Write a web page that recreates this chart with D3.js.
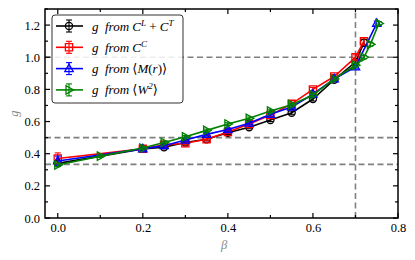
<!DOCTYPE html>
<html>
<head>
<meta charset="utf-8">
<script src="https://cdn.jsdelivr.net/npm/d3@7"></script>
<style>
  body { margin: 0; background: #fff; }
  svg text { font-family: "Liberation Serif", "DejaVu Serif", serif; }
</style>
</head>
<body>
<svg id="drawing" width="415" height="260"></svg>
<script>
// data
const betaBlack = [0, 0.2, 0.25, 0.3, 0.35, 0.4, 0.45, 0.5, 0.55, 0.6, 0.65, 0.7, 0.72]
const gBlack = [0.34, 0.43, 0.44, 0.47, 0.49, 0.53, 0.565, 0.61, 0.655, 0.74, 0.86, 0.97, 1.09]
const errBlack = [0.015, 0.01, 0.01, 0.01, 0.01, 0.01, 0.01, 0.01, 0.01, 0.012, 0.012, 0.015, 0.02]

const betaRed = [0, 0.2, 0.25, 0.3, 0.35, 0.4, 0.45, 0.5, 0.55, 0.6, 0.65, 0.7, 0.72]
const gRed = [0.37, 0.43, 0.455, 0.465, 0.49, 0.535, 0.585, 0.64, 0.71, 0.80, 0.88, 1.0, 1.10]
const errRed = [0.035, 0.01, 0.01, 0.01, 0.01, 0.01, 0.01, 0.01, 0.01, 0.012, 0.012, 0.015, 0.02]

const betaBlue = [0, 0.2, 0.25, 0.3, 0.35, 0.4, 0.45, 0.5, 0.55, 0.6, 0.65, 0.7, 0.75]
const gBlue = [0.355, 0.43, 0.45, 0.485, 0.52, 0.55, 0.59, 0.645, 0.69, 0.77, 0.865, 0.94, 1.21]
const errBlue = [0.03, 0.01, 0.01, 0.01, 0.01, 0.01, 0.01, 0.01, 0.01, 0.01, 0.01, 0.012, 0.015]

const betaGreen = [0, 0.1, 0.2, 0.25, 0.3, 0.35, 0.4, 0.45, 0.5, 0.55, 0.6, 0.65, 0.7, 0.72, 0.735, 0.755]
const gGreen = [0.33, 0.385, 0.435, 0.47, 0.505, 0.545, 0.585, 0.62, 0.665, 0.705, 0.765, 0.865, 0.95, 1.0, 1.08, 1.21]
const errGreen = [0.01, 0.008, 0.008, 0.008, 0.008, 0.008, 0.008, 0.008, 0.008, 0.008, 0.01, 0.01, 0.01, 0.01, 0.012, 0.012]

const hLines = [1.0, 0.5, 1 / 3]
const vLines = [0.7]
const xTicks = [0, 0.2, 0.4, 0.6, 0.8]
const yTicks = [0, 0.2, 0.4, 0.6, 0.8, 1.0, 1.2]

const series = [
    { beta: betaBlack, g: gBlack, err: errBlack, color: "black", marker: "circle" },
    { beta: betaRed, g: gRed, err: errRed, color: "#ff0000", marker: "square" },
    { beta: betaBlue, g: gBlue, err: errBlue, color: "#0000ff", marker: "up" },
    { beta: betaGreen, g: gGreen, err: errGreen, color: "#008000", marker: "right" }
]

const margin = { top: 9, right: 17, bottom: 42, left: 45 }
const width = 415
const height = 260

const x = d3.scaleLinear()
    .domain([-0.03, 0.8])
    .range([margin.left, width - margin.right])

const y = d3.scaleLinear()
    .domain([0, 1.3])
    .range([height - margin.bottom, margin.top])

const svg = d3.select("#drawing")

const line = d3.line()
    .x(d => x(d[0]))
    .y(d => y(d[1]))

// marker path centred at 0,0
function markerPath(kind) {
    if (kind === "circle") return d3.symbol(d3.symbolCircle, 40)()
    if (kind === "square") return "M-3.6,-3.6H3.6V3.6H-3.6Z"
    if (kind === "up") return "M0,-4.6L4.2,3L-4.2,3Z"
    return "M4.6,0L-3,4.2L-3,-4.2Z"
}

// reference lines
svg.append("g").selectAll("line")
    .data(hLines)
    .join("line")
    .attr("x1", x.range()[0]).attr("x2", x.range()[1])
    .attr("y1", d => y(d)).attr("y2", d => y(d))
    .attr("stroke", "#808080").attr("stroke-width", 1.6)
    .attr("stroke-dasharray", "6,3.5")

svg.append("g").selectAll("line")
    .data(vLines)
    .join("line")
    .attr("x1", d => x(d)).attr("x2", d => x(d))
    .attr("y1", y.range()[0]).attr("y2", y.range()[1])
    .attr("stroke", "#808080").attr("stroke-width", 1.6)
    .attr("stroke-dasharray", "6,3.5")

// series
series.forEach(s => {
    const pts = s.beta.map((b, i) => [b, s.g[i], s.err[i]])
    const g = svg.append("g")
    g.append("path")
        .attr("d", line(pts))
        .attr("fill", "none")
        .attr("stroke", s.color)
        .attr("stroke-width", 1.6)
    const eb = g.selectAll("g.err").data(pts).join("g")
        .attr("stroke", s.color).attr("stroke-width", 1.1)
    eb.append("line")
        .attr("x1", d => x(d[0])).attr("x2", d => x(d[0]))
        .attr("y1", d => y(d[1] - d[2])).attr("y2", d => y(d[1] + d[2]))
    eb.append("line")
        .attr("x1", d => x(d[0]) - 3).attr("x2", d => x(d[0]) + 3)
        .attr("y1", d => y(d[1] + d[2])).attr("y2", d => y(d[1] + d[2]))
    eb.append("line")
        .attr("x1", d => x(d[0]) - 3).attr("x2", d => x(d[0]) + 3)
        .attr("y1", d => y(d[1] - d[2])).attr("y2", d => y(d[1] - d[2]))
    g.selectAll("path.m").data(pts).join("path")
        .attr("d", markerPath(s.marker))
        .attr("transform", d => `translate(${x(d[0])},${y(d[1])})`)
        .attr("fill", "none")
        .attr("stroke", s.color)
        .attr("stroke-width", 1.3)
})

// inward ticks on all four sides
const minorX = d3.range(0, 0.81, 0.1)
const minorY = d3.range(0, 1.31, 0.1)

function ticksIn(scale, majors, minors, orient) {
    const g = svg.append("g")
    const all = minors.filter(m => !majors.some(v => Math.abs(v - m) < 1e-6)).map(v => [v, 3])
        .concat(majors.map(v => [v, 5]))
    g.selectAll("line").data(all).join("line")
        .attr("stroke", "black").attr("stroke-width", 1.2)
        .each(function (d) {
            const sel = d3.select(this)
            const p = scale(d[0])
            if (orient === "bottom") sel.attr("x1", p).attr("x2", p).attr("y1", y.range()[0]).attr("y2", y.range()[0] - d[1])
            if (orient === "top") sel.attr("x1", p).attr("x2", p).attr("y1", y.range()[1]).attr("y2", y.range()[1] + d[1])
            if (orient === "left") sel.attr("y1", p).attr("y2", p).attr("x1", x.range()[0]).attr("x2", x.range()[0] + d[1])
            if (orient === "right") sel.attr("y1", p).attr("y2", p).attr("x1", x.range()[1]).attr("x2", x.range()[1] - d[1])
        })
}
ticksIn(x, xTicks, minorX, "bottom")
ticksIn(x, xTicks, minorX, "top")
ticksIn(y, yTicks, minorY, "left")
ticksIn(y, yTicks, minorY, "right")

svg.append("g")
    .attr("transform", `translate(0,${y.range()[0]})`)
    .call(d3.axisBottom(x).tickValues(xTicks).tickFormat(d3.format(".1f")).tickSize(0).tickPadding(5))
    .call(g => g.select(".domain").remove())
    .call(g => g.selectAll("text").attr("font-size", 12.5).attr("font-family", "Liberation Serif").attr("fill", "black"))

svg.append("g")
    .attr("transform", `translate(${x.range()[0]},0)`)
    .call(d3.axisLeft(y).tickValues(yTicks).tickFormat(d3.format(".1f")).tickSize(0).tickPadding(5))
    .call(g => g.select(".domain").remove())
    .call(g => g.selectAll("text").attr("font-size", 12.5).attr("font-family", "Liberation Serif").attr("fill", "black"))

// frame
svg.append("rect")
    .attr("x", x.range()[0]).attr("y", y.range()[1])
    .attr("width", x.range()[1] - x.range()[0])
    .attr("height", y.range()[0] - y.range()[1])
    .attr("fill", "none").attr("stroke", "black").attr("stroke-width", 1.5)

// axis labels
svg.append("text")
    .attr("x", x(0.4) - 7).attr("y", 249)
    .attr("font-size", 12.5).attr("font-style", "italic").attr("fill", "#888")
    .text("β")

svg.append("text")
    .attr("transform", `translate(18,${y(0.65)}) rotate(-90)`)
    .attr("font-size", 12.5).attr("font-style", "italic").attr("fill", "#888")
    .attr("text-anchor", "middle")
    .text("g")

// legend
const leg = svg.append("g").attr("transform", "translate(52,15)")
leg.append("rect")
    .attr("width", 131).attr("height", 88).attr("rx", 3)
    .attr("fill", "white").attr("fill-opacity", 0.85)
    .attr("stroke", "#333").attr("stroke-width", 1)

const legendTexts = [
    [["g", "i"], ["  from ", "i"], ["C", "i"], ["L", "sup"], [" + ", "n"], ["C", "i"], ["T", "sup"]],
    [["g", "i"], ["  from ", "i"], ["C", "i"], ["C", "sup"]],
    [["g", "i"], ["  from ", "i"], ["⟨", "n"], ["M", "i"], ["(", "n"], ["r", "i"], [")⟩", "n"]],
    [["g", "i"], ["  from ", "i"], ["⟨", "n"], ["W", "i"], ["2", "sup"], ["⟩", "n"]]
]

series.forEach((s, i) => {
    const row = leg.append("g").attr("transform", `translate(0,${11 + i * 21.3})`)
    row.append("line").attr("x1", 4).attr("x2", 31).attr("y1", 0).attr("y2", 0)
        .attr("stroke", s.color).attr("stroke-width", 1.6)
    row.append("line").attr("x1", 17).attr("x2", 17).attr("y1", -6).attr("y2", 6)
        .attr("stroke", s.color).attr("stroke-width", 1.1)
    row.append("line").attr("x1", 14).attr("x2", 20).attr("y1", -6).attr("y2", -6)
        .attr("stroke", s.color).attr("stroke-width", 1.1)
    row.append("line").attr("x1", 14).attr("x2", 20).attr("y1", 6).attr("y2", 6)
        .attr("stroke", s.color).attr("stroke-width", 1.1)
    row.append("path").attr("d", markerPath(s.marker)).attr("transform", "translate(17,0)")
        .attr("fill", "none").attr("stroke", s.color).attr("stroke-width", 1.3)
    const t = row.append("text").attr("x", 40).attr("y", 4.5).attr("font-size", 13)
        .attr("fill", "black").style("white-space", "pre")
    let up = false
    legendTexts[i].forEach(([str, kind]) => {
        const ts = t.append("tspan").text(str)
        if (kind === "i" || kind === "sup") ts.attr("font-style", "italic")
        if (kind === "sup") { ts.attr("font-size", 9).attr("dy", -5); up = true }
        else if (up) { ts.attr("dy", 5); up = false }
    })
})
</script>
</body>
</html>
